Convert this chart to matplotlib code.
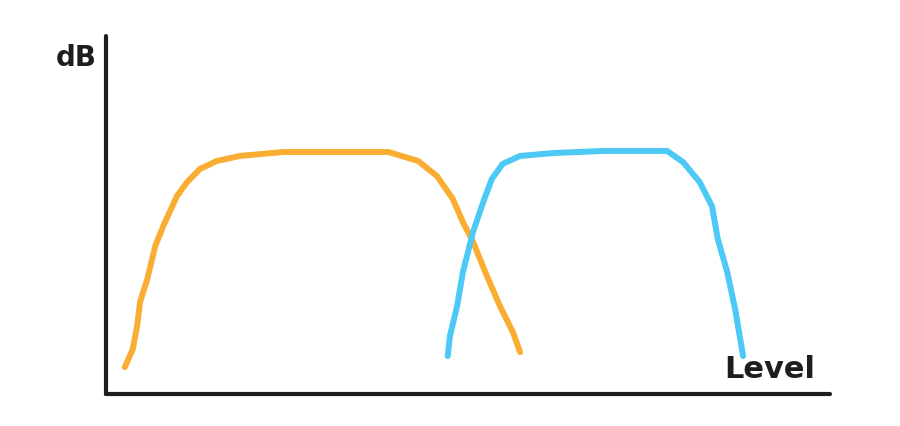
import matplotlib.pyplot as plt

# Hand-drawn sketch: two band curves, dB vs Level (arbitrary 0-100 units)
orange_x = [2.6, 3.7, 4.3, 4.7, 5.7, 6.8, 7.9, 9.8, 11.2, 13.0, 15.3, 18.5, 24.5,
            31.4, 39.0, 43.1, 45.7, 47.9, 49.3, 50.7, 52.6, 54.4, 56.2, 57.2]
orange_y = [7.5, 12.6, 19.0, 25.7, 32.1, 41.3, 46.9, 55.3, 59.2, 62.9, 65.1, 66.5, 67.6,
            67.6, 67.6, 65.1, 60.9, 54.5, 48.0, 42.5, 33.0, 24.6, 17.3, 11.7]

blue_x = [47.2, 47.5, 48.5, 49.3, 50.7, 52.1, 53.3, 54.8, 57.2, 61.7, 68.7, 77.5,
          79.7, 82.0, 83.7, 84.5, 85.8, 86.9, 88.0]
blue_y = [10.6, 16.2, 24.6, 34.1, 45.3, 53.6, 60.1, 64.3, 66.5, 67.3, 67.9, 67.9,
          64.8, 59.2, 52.5, 43.3, 34.1, 23.7, 10.6]

x_label = "Level"
y_label = "dB"

fig = plt.figure(figsize=(9, 4.27), dpi=100)
ax = fig.add_axes([0.1178, 0.0749, 0.8044, 0.8384])

ax.plot(orange_x, orange_y, color="#F9AE33", lw=4.3, solid_capstyle="round",
        solid_joinstyle="round")
ax.plot(blue_x, blue_y, color="#4CC9F5", lw=4.3, solid_capstyle="round",
        solid_joinstyle="round")

ax.set_xlim(0, 100)
ax.set_ylim(0, 100)
ax.set_xticks([])
ax.set_yticks([])
for side in ["top", "right"]:
    ax.spines[side].set_visible(False)
for side in ["left", "bottom"]:
    ax.spines[side].set_linewidth(3)
    ax.spines[side].set_color("#1e1e1e")
    ax.spines[side].set_capstyle("round")

ax.text(-4.1, 94.1, y_label, fontsize=20, fontweight="bold", color="#1e1e1e",
        ha="center", va="center", clip_on=False)
ax.text(91.7, 7.0, x_label, fontsize=22, fontweight="bold", color="#1e1e1e",
        ha="center", va="center", clip_on=False)

fig.savefig("out.png", dpi=100, facecolor="white")
